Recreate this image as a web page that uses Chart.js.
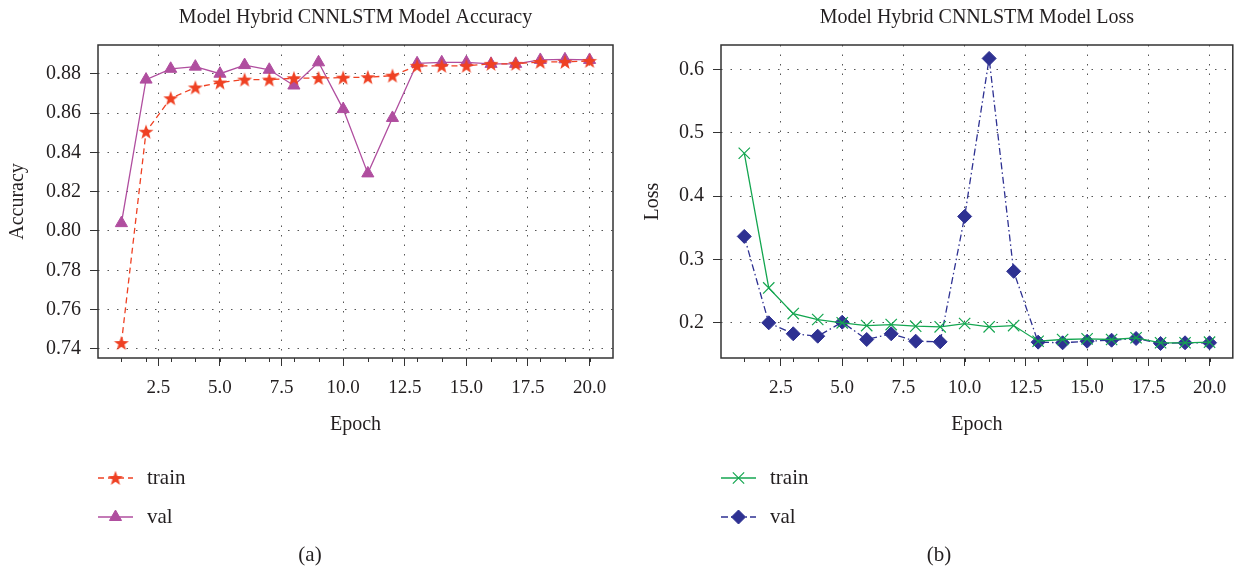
<!DOCTYPE html>
<html>
<head>
<meta charset="utf-8">
<script src="https://cdn.jsdelivr.net/npm/chart.js@4"></script>
<style>
  html, body { margin: 0; padding: 0; background: #fff; }
  #wrap { position: relative; width: 1242px; height: 570px; }
  .panel { position: absolute; top: 0; width: 621px; height: 570px; }
</style>
</head>
<body>
<div id="wrap">
  <div class="panel" style="left:0"><canvas id="grafAcc"></canvas></div>
  <div class="panel" style="left:621px"><canvas id="grafLoss"></canvas></div>
</div>
<script>
const epochs = [1, 2, 3, 4, 5, 6, 7, 8, 9, 10, 11, 12, 13, 14, 15, 16, 17, 18, 19, 20]
const accTrain = [0.743, 0.8505, 0.8675, 0.873, 0.8755, 0.877, 0.877, 0.8777, 0.8778, 0.878, 0.8782, 0.879, 0.884, 0.884, 0.884, 0.885, 0.885, 0.886, 0.886, 0.8865]
const accVal = [0.804, 0.877, 0.8825, 0.8836, 0.880, 0.8844, 0.882, 0.874, 0.8858, 0.862, 0.8293, 0.8575, 0.8853, 0.8858, 0.8858, 0.885, 0.885, 0.887, 0.8873, 0.887]
const lossTrain = [0.4677, 0.2551, 0.2146, 0.2052, 0.2, 0.1957, 0.1973, 0.1947, 0.1937, 0.1989, 0.1937, 0.1957, 0.171, 0.1737, 0.1748, 0.1737, 0.1764, 0.1685, 0.1685, 0.1695]
const lossVal = [0.3364, 0.2, 0.1827, 0.1789, 0.201, 0.1737, 0.1827, 0.171, 0.17, 0.3679, 0.6173, 0.2813, 0.1695, 0.1685, 0.171, 0.1726, 0.1753, 0.1674, 0.1685, 0.1685]
const epochTicks = [2.5, 5, 7.5, 10, 12.5, 15, 17.5, 20]
const accTicks = [0.74, 0.76, 0.78, 0.80, 0.82, 0.84, 0.86, 0.88]
const lossTicks = [0.2, 0.3, 0.4, 0.5, 0.6]

const serif = 'Liberation Serif'
const ink = '#231f20'
const red = '#ef4123'
const purple = '#b04e9f'
const green = '#14a650'
const navy = '#2e3192'

// filled 5 point star for the train accuracy markers
function makeStar(color) {
  const c = document.createElement('canvas')
  c.width = 16
  c.height = 16
  const g = c.getContext('2d')
  g.fillStyle = color
  g.beginPath()
  for (let i = 0; i < 10; i++) {
    const r = i % 2 === 0 ? 7.8 : 3.2
    const a = -Math.PI / 2 + i * Math.PI / 5
    g.lineTo(8 + r * Math.cos(a), 8.6 + r * Math.sin(a))
  }
  g.closePath()
  g.fill()
  return c
}
const starImg = makeStar(red)

const toXY = (vals) => vals.map((v, i) => ({ x: epochs[i], y: v }))

// box around plot, small ticks at each epoch, title centred on the plot
const framePlugin = {
  id: 'frame',
  afterDraw(chart, args, opts) {
    const { ctx, chartArea: a } = chart
    const xs = chart.scales.x
    ctx.save()
    ctx.strokeStyle = '#333'
    ctx.lineWidth = 1.5
    ctx.strokeRect(a.left, a.top, a.right - a.left, a.bottom - a.top)
    ctx.lineWidth = 1
    ctx.beginPath()
    epochs.forEach(e => {
      const px = Math.round(xs.getPixelForValue(e)) + 0.5
      ctx.moveTo(px, a.bottom)
      ctx.lineTo(px, a.bottom + 4)
    })
    ctx.stroke()
    ctx.fillStyle = ink
    ctx.font = '20px "' + serif + '"'
    ctx.textAlign = 'center'
    ctx.textBaseline = 'middle'
    ctx.fillText(opts.title, (a.left + a.right) / 2, 18)
    ctx.restore()
  }
}

// legend stacked under the axis, plus (a)/(b) caption
const legendBelow = {
  id: 'legendBelow',
  afterDraw(chart, args, opts) {
    const { ctx } = chart
    const x0 = chart.chartArea.left
    ctx.save()
    chart.data.datasets.forEach((ds, i) => {
      const y = opts.rows[i]
      ctx.strokeStyle = ds.borderColor
      ctx.lineWidth = ds.borderWidth
      ctx.setLineDash(ds.borderDash || [])
      ctx.beginPath()
      ctx.moveTo(x0, y)
      ctx.lineTo(x0 + 35, y)
      ctx.stroke()
      ctx.setLineDash([])
      ctx.fillStyle = ds.pointBackgroundColor
      ctx.strokeStyle = ds.pointBorderColor
      ctx.lineWidth = ds.pointBorderWidth
      Chart.helpers.drawPoint(ctx, {
        pointStyle: ds.pointStyle,
        radius: ds.pointRadius,
        rotation: 0,
        borderWidth: ds.pointBorderWidth
      }, x0 + 17.5, y)
      ctx.fillStyle = ink
      ctx.font = '21px "' + serif + '"'
      ctx.textBaseline = 'middle'
      ctx.textAlign = 'left'
      ctx.fillText(ds.label, x0 + 49, y)
    })
    ctx.textAlign = 'center'
    ctx.fillText(opts.caption, opts.captionX, 555)
    ctx.restore()
  }
}

function axisX() {
  return {
    type: 'linear',
    min: 0.05,
    max: 20.95,
    afterBuildTicks: (s) => { s.ticks = epochTicks.map(v => ({ value: v })) },
    afterFit: (s) => { s.height = 90 },
    ticks: {
      color: ink,
      padding: 11,
      font: { family: serif, size: 19 },
      callback: (v) => v.toFixed(1)
    },
    grid: { color: '#555', lineWidth: 1, tickLength: 8, tickColor: '#333', tickBorderDash: [] },
    border: { display: false, dash: [1.5, 8] },
    title: {
      display: true,
      text: 'Epoch',
      color: ink,
      font: { family: serif, size: 20 },
      padding: { top: 0, bottom: 11 }
    }
  }
}

function axisY(min, max, ticks, dec, name, width, titlePad) {
  return {
    min: min,
    max: max,
    afterBuildTicks: (s) => { s.ticks = ticks.map(v => ({ value: v })) },
    afterFit: (s) => { s.width = width },
    ticks: {
      color: ink,
      padding: 9,
      font: { family: serif, size: 20 },
      callback: (v) => v.toFixed(dec)
    },
    grid: { color: '#555', lineWidth: 1, tickLength: 8, tickColor: '#333', tickBorderDash: [] },
    border: { display: false, dash: [1.5, 8] },
    title: {
      display: true,
      text: name,
      color: ink,
      font: { family: serif, size: 20 },
      padding: { top: titlePad, bottom: 0 }
    }
  }
}

new Chart(document.getElementById('grafAcc'), {
  type: 'line',
  data: {
    datasets: [{
      label: 'train',
      data: toXY(accTrain),
      borderColor: red,
      borderWidth: 1.3,
      borderDash: [6, 4],
      pointStyle: starImg,
      pointRadius: 8,
      pointBackgroundColor: red,
      pointBorderColor: red,
      pointBorderWidth: 0
    }, {
      label: 'val',
      data: toXY(accVal),
      borderColor: purple,
      borderWidth: 1.3,
      pointStyle: 'triangle',
      pointRadius: 7,
      pointBackgroundColor: purple,
      pointBorderColor: purple,
      pointBorderWidth: 1
    }]
  },
  options: {
    responsive: true,
    maintainAspectRatio: false,
    animation: false,
    layout: { padding: { left: 0, right: 8, top: 45, bottom: 122 } },
    plugins: {
      legend: { display: false },
      tooltip: { enabled: false },
      frame: { title: 'Model Hybrid CNNLSTM Model Accuracy' },
      legendBelow: { rows: [478, 517], caption: '(a)', captionX: 310 }
    },
    scales: {
      x: axisX(),
      y: axisY(0.7354, 0.8946, accTicks, 2, 'Accuracy', 98, 6)
    }
  },
  plugins: [framePlugin, legendBelow]
});

new Chart(document.getElementById('grafLoss'), {
  type: 'line',
  data: {
    datasets: [{
      label: 'train',
      data: toXY(lossTrain),
      borderColor: green,
      borderWidth: 1.3,
      pointStyle: 'crossRot',
      pointRadius: 8,
      pointBackgroundColor: green,
      pointBorderColor: green,
      pointBorderWidth: 1.2
    }, {
      label: 'val',
      data: toXY(lossVal),
      borderColor: navy,
      borderWidth: 1.3,
      borderDash: [7, 3, 1.5, 3],
      pointStyle: 'rectRot',
      pointRadius: 7,
      pointBackgroundColor: navy,
      pointBorderColor: navy,
      pointBorderWidth: 1
    }]
  },
  options: {
    responsive: true,
    maintainAspectRatio: false,
    animation: false,
    layout: { padding: { left: 0, right: 5, top: 45, bottom: 122 } },
    plugins: {
      legend: { display: false },
      tooltip: { enabled: false },
      frame: { title: 'Model Hybrid CNNLSTM Model Loss' },
      legendBelow: { rows: [478, 517], caption: '(b)', captionX: 318 }
    },
    scales: {
      x: axisX(),
      y: axisY(0.1445, 0.6385, lossTicks, 1, 'Loss', 100, 20)
    }
  },
  plugins: [framePlugin, legendBelow]
});
</script>
</body>
</html>
